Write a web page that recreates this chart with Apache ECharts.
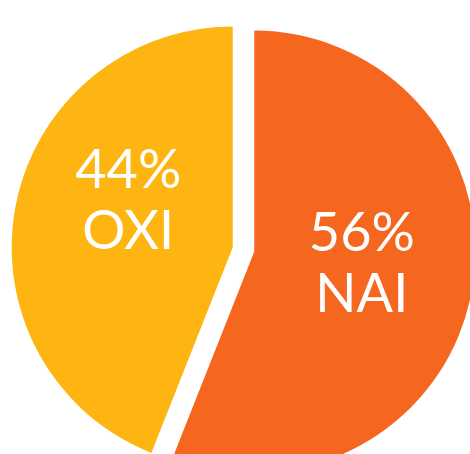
<!DOCTYPE html>
<html>
<head>
<meta charset="utf-8">
<script src="https://cdn.jsdelivr.net/npm/echarts@6/dist/echarts.min.js"></script>
<style>
  html, body { margin: 0; padding: 0; background: #fff; }
  #chart { width: 470px; height: 454px; }
</style>
</head>
<body>
<div id="chart"></div>
<script>
  // share of each group, clockwise from the top
  const names = ['NAI', 'OXI'];
  const values = [56, 44];
  const colors = ['#F5661F', '#FEB511'];
  // nudges for the centred label box: left/right padding and an empty spacer line
  const labelPad = [[0, 8, 0, 0], [0, 0, 0, 14]];
  const spacer = [18, 50];

  const chart = echarts.init(document.getElementById('chart'), null, { renderer: 'canvas' });

  chart.setOption({
    animation: false,
    series: [{
      type: 'pie',
      center: [243.5, 249.5],
      radius: 221,
      startAngle: 90,
      clockwise: true,
      selectedMode: 'multiple',
      selectedOffset: 11,
      silent: true,
      label: {
        position: 'inner',
        formatter: function (p) {
          return '{v|' + p.value + '%}\n{v|' + p.name + '}\n{g| }';
        },
        color: '#fff',
        rich: {
          v: {
            color: '#fff',
            fontFamily: 'Lato',
            fontWeight: 400,
            fontSize: 54,
            lineHeight: 61
          }
        }
      },
      labelLine: { show: false },
      emphasis: { disabled: true },
      data: names.map(function (n, i) {
        return {
          name: n,
          value: values[i],
          selected: true,
          itemStyle: { color: colors[i] },
          select: { itemStyle: { color: colors[i] } },
          label: {
            padding: labelPad[i],
            rich: {
              v: { color: '#fff', fontFamily: 'Lato', fontWeight: 400, fontSize: 54, lineHeight: 61 },
              g: { fontSize: 1, lineHeight: spacer[i], height: spacer[i] }
            }
          }
        };
      })
    }]
  });
</script>
</body>
</html>
